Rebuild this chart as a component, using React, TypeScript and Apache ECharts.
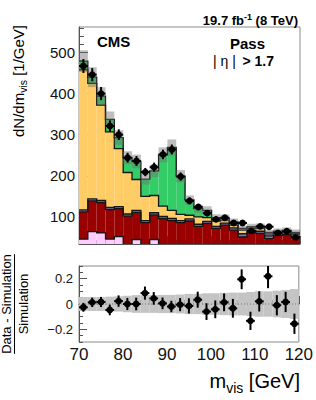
import React, { useEffect, useRef } from 'react';
import * as echarts from 'echarts';

// ---- data ----
const binEdges = [70, 72, 74, 76, 78, 80, 82, 84, 86, 88, 90, 92, 94, 96, 98, 100, 102, 104, 106, 108, 110, 112, 114, 116, 118, 120];
const pinkVals = [46, 64, 61, 46, 52, 22, 45, 20, 45, 20, 18, 18, 18, 16, 16, 15, 15, 14, 14, 13, 13, 12, 12, 12, 11];
const redVals = [66, 75, 74, 72, 68, 80, 66, 66, 60, 76, 73, 68, 72, 61, 68, 57, 65, 54, 37, 49, 47, 35, 43, 45, 41];
const purpleVals = [5, 5, 5, 5, 5, 5, 5, 5, 5, 5, 5, 5, 5, 5, 5, 5, 5, 5, 8, 5, 5, 7, 5, 5, 5];
const yellowVals = [341, 281, 232, 184, 141, 101, 75, 59, 42, 25, 20, 15, 9, 18, 9, 13, 7, 7, 9, 5, 7, 4, 3, 3, 3];
const greenVals = [21, 15, 22, 30, 27, 36, 44, 42, 60, 125, 153, 93, 37, 20, 18, 8, 5, 8, 4, 4, 4, 4, 2, 2, 2];
const dataVals = [467, 446, 400, 321, 300, 244, 236, 209, 221, 252, 264, 198, 139, 124, 109, 94, 98, 85, 85, 66, 77, 76, 61, 65, 50];
const dataErr = [17, 16, 16, 14, 13, 12, 12, 10, 11, 11.5, 12, 10, 8.5, 7.6, 7.7, 6.9, 6.8, 6.5, 5.6, 5.5, 6, 5.8, 5, 5.1, 4.7];
const bandRelErr = [0.055, 0.055, 0.055, 0.058, 0.06, 0.065, 0.07, 0.07, 0.07, 0.072, 0.072, 0.075, 0.08, 0.08, 0.085, 0.085, 0.088, 0.09, 0.09, 0.095, 0.1, 0.1, 0.105, 0.11, 0.118];
const ratioVals = [-0.026, 0.013, 0.016, -0.047, 0.023, 0, 0, 0.086, 0.044, 0.005, -0.02, -0.005, -0.015, 0.034, -0.06, -0.042, 0.013, -0.034, 0.195, -0.133, 0.021, 0.219, -0.01, 0.016, -0.156];
const ratioErr = [0.035, 0.037, 0.04, 0.042, 0.045, 0.048, 0.05, 0.052, 0.05, 0.046, 0.045, 0.052, 0.06, 0.063, 0.066, 0.07, 0.07, 0.074, 0.078, 0.072, 0.08, 0.094, 0.08, 0.08, 0.08];
const mainYTicksMajor = [100, 200, 300, 400, 500];
const mainYTicksMinor = [40, 60, 80, 120, 140, 160, 180, 220, 240, 260, 280, 320, 340, 360, 380, 420, 440, 460, 480, 520, 540, 560];
const ratioYTicksMajor = [-0.2, 0, 0.2];
const ratioYTicksMinor = [-0.3, -0.25, -0.15, -0.1, -0.05, 0.05, 0.1, 0.15, 0.25, 0.3];

const FONT = '"Liberation Sans", Arial, Helvetica, sans-serif';
const COLORS = ['#FFCCFF', '#990000', '#7474B0', '#FFCC66', '#33CC66'];

export default function App() {
  const ref = useRef<HTMLDivElement>(null);

  useEffect(() => {
    document.body.style.margin = '0';
    const el = ref.current!;
    const chart = echarts.init(el, null, { renderer: 'svg' });

    const cv = document.createElement('canvas').getContext('2d')!;
    const tw = (t: string, size: number, bold = false) => {
      cv.font = `${bold ? 'bold ' : ''}${size}px "Liberation Sans"`;
      return cv.measureText(t).width;
    };
    const MID = 0.3465;

    const comps = [pinkVals, redVals, purpleVals, yellowVals, greenVals];
    const nb = binEdges.length - 1;
    const cum: number[][] = [];
    comps.forEach((arr, k) => {
      cum.push(arr.map((v, i) => (k === 0 ? 0 : cum[k - 1][i]) + v));
    });
    const totals = cum[comps.length - 1];
    const centers = pinkVals.map((_, i) => (binEdges[i] + binEdges[i + 1]) / 2);

    const rectRender = (fill: string) => (params: any, api: any) => {
      const p0 = api.coord([api.value(0), api.value(3)]);
      const p1 = api.coord([api.value(1), api.value(2)]);
      return {
        type: 'rect',
        shape: { x: p0[0], y: p0[1], width: p1[0] - p0[0], height: p1[1] - p0[1] },
        style: { fill },
      };
    };
    const outlineRender = (params: any, api: any) => {
      const x0 = api.value(0), x1 = api.value(1), hi = api.value(2), nx = api.value(3);
      const a = api.coord([x0, hi]);
      const b = api.coord([x1, hi]);
      const c = api.coord([x1, nx]);
      return {
        type: 'polyline',
        shape: { points: [[a[0] - 0.6, a[1]], b, c] },
        style: { stroke: '#151515', lineWidth: 1.3, fill: null },
      };
    };

    const stackSeries = comps.map((arr, k) => ({
      type: 'custom', xAxisIndex: 0, yAxisIndex: 0, z: 2, silent: true, clip: true,
      renderItem: rectRender(COLORS[k]),
      data: arr.map((_, i) => [binEdges[i], binEdges[i + 1], k === 0 ? 0 : cum[k - 1][i], cum[k][i]]),
    }));
    const outlineSeries = comps.map((arr, k) => ({
      type: 'custom', xAxisIndex: 0, yAxisIndex: 0, z: 3, silent: true, clip: true,
      renderItem: outlineRender,
      data: arr.map((_, i) => [binEdges[i], binEdges[i + 1], cum[k][i], i < nb - 1 ? cum[k][i + 1] : cum[k][i]]),
    }));

    const pointRender = (params: any, api: any) => {
      const x = api.value(0), y = api.value(1), e = api.value(2);
      const c = api.coord([x, y]);
      const t = api.coord([x, y + e]);
      const b = api.coord([x, y - e]);
      const l = api.coord([x - 1, y]);
      const r = api.coord([x + 1, y]);
      return {
        type: 'group',
        children: [
          { type: 'line', shape: { x1: c[0], y1: t[1], x2: c[0], y2: b[1] }, style: { stroke: '#000', lineWidth: 2 } },
          { type: 'line', shape: { x1: l[0], y1: c[1], x2: r[0], y2: c[1] }, style: { stroke: '#000', lineWidth: 2 } },
          { type: 'circle', shape: { cx: c[0], cy: c[1], r: 3.4 }, style: { fill: '#000' } },
        ],
      };
    };

    const mainBand = totals.map((t, i) => [binEdges[i], binEdges[i + 1], t * (1 - bandRelErr[i]), t * (1 + bandRelErr[i])]);
    const ratioBand = bandRelErr.map((e, i) => [binEdges[i], binEdges[i + 1], -e, e]);
    const mainPts = dataVals.map((v, i) => [centers[i], v, dataErr[i]]);
    const ratioPts = ratioVals.map((v, i) => [centers[i], v, ratioErr[i]]);

    const axisLineStyle = { color: '#555', width: 1 };
    const xAxisBase = (gi: number, showLabel: boolean) => ({
      type: 'value', gridIndex: gi, min: 70, max: 120, interval: 10,
      axisLine: { show: true, lineStyle: axisLineStyle },
      axisTick: { show: true, inside: true, length: 8, lineStyle: axisLineStyle },
      minorTick: { show: true, splitNumber: 5, length: 4, lineStyle: axisLineStyle },
      splitLine: { show: false },
      axisLabel: { show: showLabel, fontSize: 17, fontFamily: FONT, color: '#111', margin: 4 },
    });

    const g: any[] = [];
    const txt = (text: string, x: number, y: number, size: number, bold: boolean, align = 'left', rotation = 0) => ({
      type: 'text', x, y, rotation, silent: true,
      style: { text, fill: '#000', fontSize: size, fontFamily: FONT, fontWeight: bold ? 'bold' : 'normal', textAlign: align, textVerticalAlign: 'middle' },
    });
    {
      const right = 298, yb = 25;
      const A = '19.7 fb', S = '-1', B = ' (8 TeV)';
      const wB = tw(B, 13, true), wS = tw(S, 9, true), wA = tw(A, 13, true);
      const xB = right - wB, xS = xB - wS, xA = xS - wA;
      g.push(txt(A, xA, yb - MID * 13, 13, true));
      g.push(txt(S, xS, yb - 5 - MID * 9, 9, true));
      g.push(txt(B, xB, yb - MID * 13, 13, true));
    }
    g.push(txt('CMS', 97, 47 - MID * 15, 15, true));
    g.push(txt('Pass', 230, 48.5 - MID * 15, 15, true));
    g.push(txt('| η |', 213, 66 - MID * 14, 14, false));
    g.push(txt('> 1.7', 274, 66 - MID * 14, 14, true, 'right'));
    {
      const f = 15, fs = 10.5;
      const s1 = 'dN/dm', s2 = 'vis', s3 = ' [1/GeV]';
      const w1 = tw(s1, f), w2 = tw(s2, fs), w3 = tw(s3, f);
      const top = 25;
      const bottom = top + w1 + w2 + w3;
      const base = 23.5, subBase = 26.5;
      const R = Math.PI / 2;
      g.push(txt(s1, base - MID * f, bottom, f, false, 'left', R));
      g.push(txt(s2, subBase - MID * fs, bottom - w1, fs, false, 'left', R));
      g.push(txt(s3, base - MID * f, bottom - w1 - w2, f, false, 'left', R));
    }
    {
      const f = 13, cy = 304;
      const num = 'Data - Simulation', den = 'Simulation';
      const wn = tw(num, f);
      const R = Math.PI / 2;
      g.push(txt(num, 11.4 - MID * f, cy, f, false, 'center', R));
      g.push({ type: 'line', silent: true, shape: { x1: 14.5, y1: cy - wn / 2, x2: 14.5, y2: cy + wn / 2 }, style: { stroke: '#000', lineWidth: 1 } });
      g.push(txt(den, 28 - MID * f, cy, f, false, 'center', R));
    }
    {
      const f = 20, fs = 14, right = 300;
      const s1 = 'm', s2 = 'vis', s3 = ' [GeV]';
      const w3 = tw(s3, f), w2 = tw(s2, fs);
      g.push(txt(s3, right, 388 - MID * f, f, false, 'right'));
      g.push(txt(s2, right - w3, 393 - MID * fs, fs, false, 'right'));
      g.push(txt(s1, right - w3 - w2, 388 - MID * f, f, false, 'right'));
    }

    const option: any = {
      animation: false,
      grid: [
        { left: 79, top: 27, width: 221, height: 217, show: true, borderColor: '#8a8a8a', borderWidth: 1, backgroundColor: 'transparent' },
        { left: 79, top: 266, width: 221, height: 76, show: true, borderColor: '#8a8a8a', borderWidth: 1, backgroundColor: 'transparent' },
      ],
      xAxis: [xAxisBase(0, false), xAxisBase(1, true)],
      yAxis: [
        {
          type: 'value', gridIndex: 0, min: 34, max: 562,
          axisLine: { show: true, lineStyle: axisLineStyle },
          axisTick: { show: true, inside: true, length: 9, lineStyle: axisLineStyle, customValues: mainYTicksMajor },
          axisLabel: { show: true, fontSize: 15, fontFamily: FONT, color: '#111', margin: 4, customValues: mainYTicksMajor },
          splitLine: { show: false },
        },
        {
          type: 'value', gridIndex: 0, min: 34, max: 562, position: 'left',
          axisLine: { show: false },
          axisTick: { show: true, inside: true, length: 5, lineStyle: axisLineStyle, customValues: mainYTicksMinor },
          axisLabel: { show: false },
          splitLine: { show: false },
        },
        {
          type: 'value', gridIndex: 1, min: -0.3, max: 0.3,
          axisLine: { show: true, lineStyle: axisLineStyle },
          axisTick: { show: true, inside: true, length: 8, lineStyle: axisLineStyle, customValues: ratioYTicksMajor },
          axisLabel: {
            show: true, fontSize: 13, fontFamily: FONT, color: '#111', margin: 6, customValues: ratioYTicksMajor,
            formatter: (v: number) => (Math.abs(v) < 1e-9 ? '0' : v < 0 ? '\u2212' + Math.abs(v).toFixed(1) : v.toFixed(1)),
          },
          splitLine: { show: false },
        },
        {
          type: 'value', gridIndex: 1, min: -0.3, max: 0.3, position: 'left',
          axisLine: { show: false },
          axisTick: { show: true, inside: true, length: 4, lineStyle: axisLineStyle, customValues: ratioYTicksMinor },
          axisLabel: { show: false },
          splitLine: { show: false },
        },
      ],
      series: [
        ...stackSeries,
        ...outlineSeries,
        { type: 'custom', xAxisIndex: 0, yAxisIndex: 0, z: 4, silent: true, clip: true, renderItem: rectRender('rgba(110,110,110,0.45)'), data: mainBand },
        { type: 'custom', xAxisIndex: 0, yAxisIndex: 0, z: 5, silent: true, clip: true, renderItem: pointRender, data: mainPts },
        { type: 'custom', xAxisIndex: 1, yAxisIndex: 2, z: 2, silent: true, clip: true, renderItem: rectRender('#c4c4c4'), data: ratioBand },
        { type: 'line', xAxisIndex: 1, yAxisIndex: 2, z: 3, silent: true, symbol: 'none', lineStyle: { color: '#777', width: 1, type: [1, 2] }, data: [[70, 0], [120, 0]] },
        { type: 'custom', xAxisIndex: 1, yAxisIndex: 2, z: 5, silent: true, clip: true, renderItem: pointRender, data: ratioPts },
      ],
      graphic: { elements: g },
    };
    chart.setOption(option);
    return () => chart.dispose();
  }, []);

  return <div ref={ref} style={{ width: 316, height: 400 }} />;
}
